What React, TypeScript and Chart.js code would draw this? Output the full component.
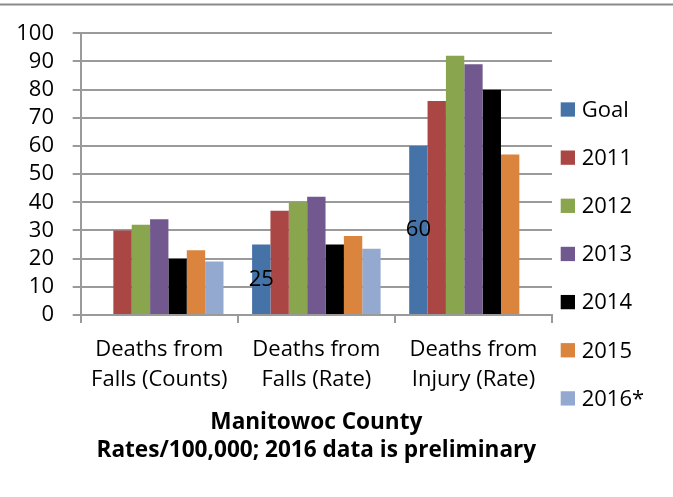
import React, { useEffect, useRef } from "react";
import { Chart, registerables } from "chart.js";

Chart.register(...registerables);

const categories = [
  ["Deaths from", "Falls (Counts)"],
  ["Deaths from", "Falls (Rate)"],
  ["Deaths from", "Injury (Rate)"],
];
const seriesNames = ["Goal", "2011", "2012", "2013", "2014", "2015", "2016*"];
const goal = [null, 25, 60];
const y2011 = [30, 37, 76];
const y2012 = [32, 40, 92];
const y2013 = [34, 42, 89];
const y2014 = [20, 25, 80];
const y2015 = [23, 28, 57];
const y2016 = [19, 23.5, null];
const yMin = 0;
const yMax = 100;
const yStep = 10;
const titleLines = ["Manitowoc County", "Rates/100,000; 2016 data is preliminary"];

const seriesValues = [goal, y2011, y2012, y2013, y2014, y2015, y2016];
const colors = ["#4572A7", "#AA4643", "#89A54E", "#71588F", "#000000", "#DB843D", "#93A9CF"];

const FONT = "'Open Sans', sans-serif";
const FS = 22;
const TFS = 22.6;
const GRID = "#9a9a9a";

export default function App() {
  const ref = useRef<HTMLCanvasElement | null>(null);

  useEffect(() => {
    if (!ref.current) return;

    const topLine = {
      id: "topLine",
      beforeDraw(chart: any) {
        const ctx = chart.ctx;
        ctx.save();
        ctx.fillStyle = "#8a8a8a";
        ctx.fillRect(0, 3.5, chart.width, 2);
        ctx.restore();
      },
    };

    const goalLabels = {
      id: "goalLabels",
      afterDatasetsDraw(chart: any) {
        const ctx = chart.ctx;
        const meta = chart.getDatasetMeta(0);
        const data = chart.data.datasets[0].data;
        ctx.save();
        ctx.font = `${FS}px ${FONT}`;
        ctx.fillStyle = "#000";
        ctx.textAlign = "center";
        ctx.textBaseline = "middle";
        meta.data.forEach((el: any, i: number) => {
          const v = data[i];
          if (v === null || v === undefined) return;
          ctx.fillText(String(v), el.x, (el.y + el.base) / 2);
        });
        ctx.restore();
      },
    };

    const customLegend = {
      id: "customLegend",
      afterDraw(chart: any) {
        const ctx = chart.ctx;
        const area = chart.chartArea;
        const boxX = area.right + 8.7;
        const box = 14.3;
        const textX = area.right + 29.7;
        const firstY = 109.5;
        const step = 48.15;
        ctx.save();
        ctx.font = `${FS}px ${FONT}`;
        ctx.textAlign = "left";
        ctx.textBaseline = "middle";
        chart.data.datasets.forEach((ds: any, i: number) => {
          const cy = firstY + i * step;
          ctx.fillStyle = ds.backgroundColor;
          ctx.fillRect(boxX, cy - box / 2, box, box);
          ctx.fillStyle = "#000";
          ctx.fillText(ds.label, textX, cy + 1);
        });
        ctx.restore();
      },
    };

    const chart = new Chart(ref.current, {
      type: "bar",
      data: {
        labels: categories,
        datasets: seriesNames.map((name, i) => ({
          label: name,
          data: seriesValues[i],
          backgroundColor: colors[i],
          borderWidth: 0,
          categoryPercentage: 0.818,
          barPercentage: 1,
        })),
      },
      options: {
        responsive: false,
        animation: false,
        devicePixelRatio: 1,
        layout: { padding: { top: 33.3, right: 121, left: 0, bottom: 0 } },
        plugins: {
          legend: { display: false },
          tooltip: { enabled: false },
          title: {
            display: true,
            position: "bottom",
            fullSize: false,
            text: titleLines,
            color: "#000",
            font: { family: FONT, size: TFS, weight: "bold", lineHeight: 27.5 / TFS },
            padding: { top: 2, bottom: 33 },
          },
        },
        scales: {
          x: {
            offset: true,
            grid: {
              offset: true,
              drawOnChartArea: false,
              drawTicks: true,
              tickLength: 8,
              color: GRID,
              lineWidth: 2,
            },
            border: { display: true, color: GRID, width: 2 },
            ticks: {
              autoSkip: false,
              maxRotation: 0,
              minRotation: 0,
              padding: 12,
              color: "#000",
              font: { family: FONT, size: FS, lineHeight: 30 / FS },
            },
          },
          y: {
            min: yMin,
            max: yMax,
            afterFit(scale: any) {
              scale.width = 80.7;
            },
            grid: {
              drawTicks: true,
              tickLength: 8,
              color: GRID,
              lineWidth: 2,
            },
            border: { display: true, color: GRID, width: 2 },
            ticks: {
              stepSize: yStep,
              autoSkip: false,
              padding: 18.7,
              color: "#000",
              font: { family: FONT, size: FS },
            },
          },
        },
      },
      plugins: [topLine, goalLabels, customLegend],
    } as any);

    return () => chart.destroy();
  }, []);

  return (
    <div style={{ position: "absolute", left: 0, top: 0, width: 673, height: 497, background: "#fff" }}>
      <canvas ref={ref} width={673} height={497} style={{ display: "block" }} />
    </div>
  );
}
